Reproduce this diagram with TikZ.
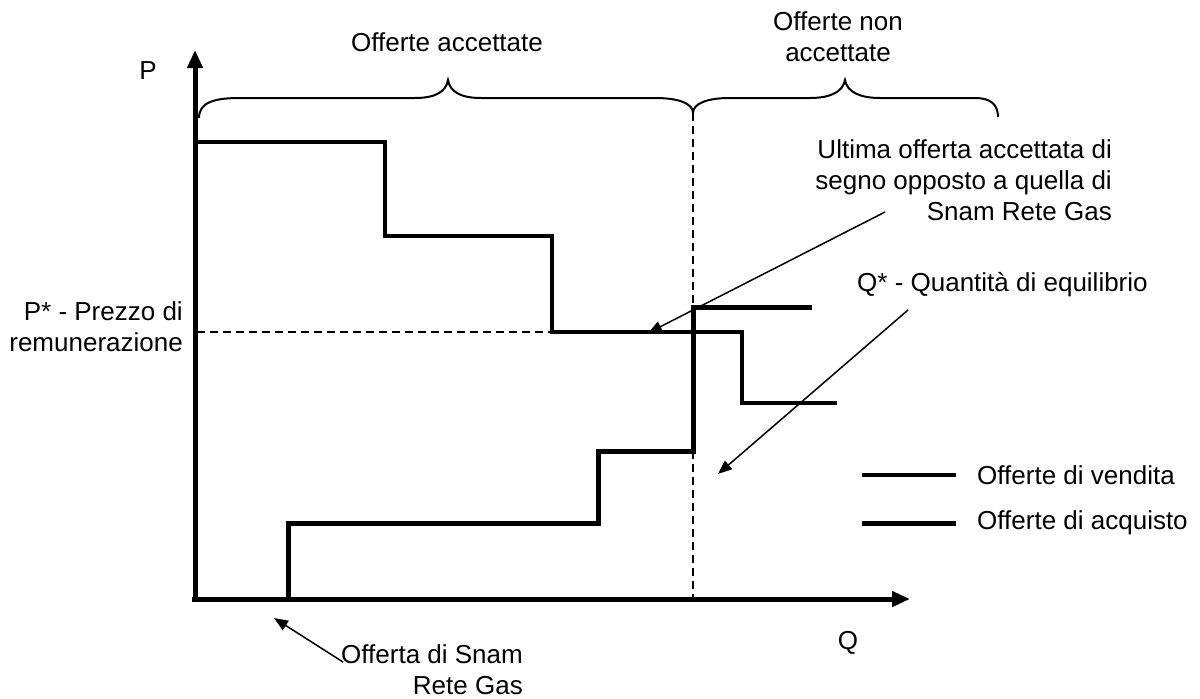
\documentclass[tikz,border=0pt]{standalone}
\usepackage{fontspec}
\setmainfont{Liberation Sans}
\usetikzlibrary{arrows.meta}
\begin{document}
\begin{tikzpicture}[x=1pt,y=-1pt,
  lbl/.style={inner sep=0pt,font=\fontsize{26}{31}\selectfont},
  axisline/.style={line width=5pt,-{Triangle[length=18pt,width=15pt]}},
  sellline/.style={line width=4pt},
  buyline/.style={line width=5pt},
  bracel/.style={line width=2pt},
  dashl/.style={line width=1.5pt,dash pattern=on 8pt off 5pt},
  pointer/.style={line width=1.5pt,-{Triangle[length=14pt,width=11pt]}}]
\useasboundingbox (0,0) rectangle (1200,699);
\fill[white] (0,0) rectangle (1200,699);
% axes
\coordinate (O) at (195,599);
\coordinate (Ytop) at (195,50);
\coordinate (Xend) at (910,599);
\draw[axisline] (195,601.5) -- (Ytop);
\draw[axisline] (192,599) -- (Xend);
% dashed lines
\coordinate (Pstar) at (197,332);
\coordinate (Pend) at (552,332);
\draw[dashl] (Pstar) -- (Pend);
\coordinate (Qtop) at (693,113);
\coordinate (Qbot) at (693,597);
\draw[dashl] (Qtop) -- (Qbot);
% braces
\draw[bracel] (199,118) .. controls (199,102) and (215,98) .. (240,98) -- (415,98)
  .. controls (435,98) and (446,92) .. (448,80)
  .. controls (450,92) and (461,98) .. (481,98) -- (655,98)
  .. controls (680,98) and (693,104) .. (693,113);
\draw[bracel] (693,113) .. controls (693,104) and (706,98) .. (730,98) -- (810,98)
  .. controls (830,98) and (843,92) .. (845,80)
  .. controls (847,92) and (860,98) .. (880,98) -- (975,98)
  .. controls (990,98) and (998,104) .. (998,117);
% sell curve (descending)
\draw[sellline] (197,142) -- (385,142) -- (385,236) -- (552,236) -- (552,332)
  -- (742,332) -- (742,403) -- (837,403);
% buy curve (ascending)
\draw[buyline] (197,599) -- (288,599) -- (288,523) -- (598,523) -- (598,451)
  -- (693,451) -- (693,307) -- (812,307);
% labels
\node[lbl] (P) at (148,71) {P};
\node[lbl] (Q) at (848,643) {Q};
\node[lbl] (acc) at (447,42) {Offerte accettate};
\node[lbl,align=center] (nonacc) at (838,37) {Offerte non\\accettate};
\node[lbl,align=right,anchor=east] (prezzo) at (183,327) {P* - Prezzo di\\remunerazione};
\node[lbl,align=right,anchor=east] (ultima) at (1112,180) {Ultima offerta accettata di\\segno opposto a quella di\\Snam Rete Gas};
\node[lbl,anchor=west] (qstar) at (857,285) {Q* - Quantità di equilibrio};
\node[lbl,align=right,anchor=east] (snam) at (523,670) {Offerta di Snam\\Rete Gas};
% pointers
\coordinate (a1s) at (885,212);
\coordinate (a1e) at (648,333);
\draw[pointer] (a1s) -- (a1e);
\coordinate (a2s) at (908,310);
\coordinate (a2e) at (718,474);
\draw[pointer] (a2s) -- (a2e);
\coordinate (a3s) at (343,662);
\coordinate (a3e) at (274,618);
\draw[pointer] (a3s) -- (a3e);
% legend
\coordinate (l1a) at (862,475);
\coordinate (l1b) at (956,475);
\draw[line width=3.5pt] (l1a) -- (l1b);
\node[lbl,anchor=west] (leg1) at (977,475) {Offerte di vendita};
\coordinate (l2a) at (862,523);
\coordinate (l2b) at (956,523);
\draw[line width=5pt] (l2a) -- (l2b);
\node[lbl,anchor=west] (leg2) at (977,523) {Offerte di acquisto};
\end{tikzpicture}
\end{document}
